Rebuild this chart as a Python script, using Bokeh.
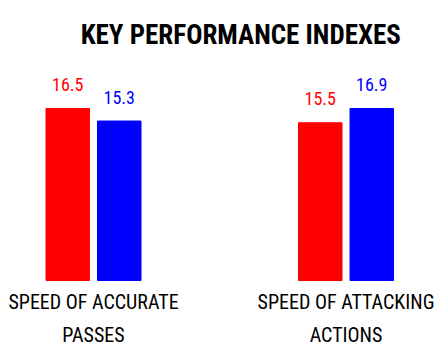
from bokeh.plotting import figure
from bokeh.models import Range1d, ColumnDataSource
from bokeh.core.properties import value
from bokeh.embed import file_html
from bokeh.resources import INLINE

categories = ["SPEED OF ACCURATE\nPASSES", "SPEED OF ATTACKING\nACTIONS"]
values_a = [16.5, 15.5]
values_b = [15.3, 16.9]
colors = ["#FF0000", "#0000FF"]
title = "KEY PERFORMANCE INDEXES"

FONT = "Roboto Condensed"
OFFSET = 0.102
BAR_W = 0.1723

x, tops, cols, labels = [], [], [], []
for i in range(len(categories)):
    m = max(values_a[i], values_b[i])
    for k, (v, col) in enumerate(zip([values_a[i], values_b[i]], colors)):
        x.append(i + (OFFSET if k else -OFFSET))
        tops.append(v / m)
        cols.append(col)
        labels.append(f"{v:.1f}")

src = ColumnDataSource(dict(x=x, top=tops, color=cols, label=labels))

p = figure(width=444, height=352, x_range=Range1d(-0.3683, 1.390), y_range=Range1d(-0.4186, 1.628),
           output_backend="svg", toolbar_location=None, min_border=0)
p.vbar(x="x", top="top", width=BAR_W, color="color", source=src)
p.text(x="x", y="top", text="label", text_color="color", text_align="center",
       text_baseline="alphabetic", y_offset=-24, text_font=value(FONT),
       text_font_size="18px", source=src)
p.text(x=list(range(len(categories))), y=[0, 0], text=categories, text_align="center",
       text_baseline="alphabetic", y_offset=38, text_font=value(FONT),
       text_font_size="20px", text_line_height=1.35, text_color="black")
p.text(x=[0.5], y=[1.628], text=[title], x_offset=21,
       y_offset=34, text_align="center", text_baseline="alphabetic",
       text_font=value(FONT), text_font_style="bold", text_font_size="27px",
       text_color="black")

p.axis.visible = False
p.grid.visible = False
p.outline_line_color = None

open("out.html", "w").write(file_html(p, INLINE))
